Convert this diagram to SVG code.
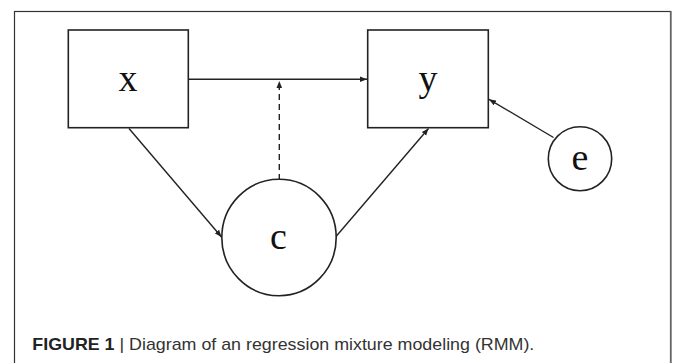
<svg xmlns="http://www.w3.org/2000/svg" width="673" height="363" viewBox="0 0 673 363">
<style>
.box{fill:#fff;stroke:#222;stroke-width:1.6}
.lbl{font-family:"Liberation Serif","Times New Roman",serif;font-size:38px;fill:#111;text-anchor:middle}
.edge{stroke:#222;stroke-width:1.4;fill:none;marker-end:url(#ah)}
.cap{font-family:"Liberation Sans",Arial,sans-serif;font-size:17px;fill:#333}
</style>
<defs>
<marker id="ah" viewBox="0 0 10 10" refX="10" refY="5" markerWidth="7" markerHeight="7" markerUnits="userSpaceOnUse" orient="auto">
<path d="M0,1 L10,5 L0,9 z" fill="#222"/>
</marker>
</defs>
<rect x="14.5" y="11.5" width="656" height="360" fill="#fff" stroke="#333" stroke-width="1.2"/>
<line x1="671" y1="11" x2="671" y2="363" stroke="#777" stroke-width="1.5"/>
<g id="connectors">
<line class="edge" x1="188" y1="79.3" x2="367" y2="79.3"/>
<line class="edge" x1="279.3" y1="180" x2="279.3" y2="81" stroke-dasharray="6,4"/>
<line class="edge" x1="129" y1="128.5" x2="221.5" y2="237"/>
<line class="edge" x1="336" y1="236.5" x2="428.5" y2="128.5"/>
<line class="edge" x1="553.5" y1="137.5" x2="489" y2="99.3"/>
</g>
<g id="node-x">
<rect class="box" x="68.3" y="30" width="120" height="97.7"/>
<text class="lbl" x="128" y="91">x</text>
</g>
<g id="node-y">
<rect class="box" x="367.7" y="30" width="120.6" height="97.7"/>
<text class="lbl" x="428" y="91">y</text>
</g>
<g id="node-c">
<ellipse class="box" cx="279" cy="237.5" rx="57.2" ry="58.2"/>
<text class="lbl" x="278.5" y="249">c</text>
</g>
<g id="node-e">
<ellipse class="box" cx="580" cy="158.7" rx="31.7" ry="32"/>
<text class="lbl" x="580" y="170">e</text>
</g>
<text class="cap" x="32.3" y="349.5" textLength="502" lengthAdjust="spacingAndGlyphs"><tspan font-weight="bold" fill="#222">FIGURE 1</tspan> | Diagram of an regression mixture modeling (RMM).</text>
</svg>
